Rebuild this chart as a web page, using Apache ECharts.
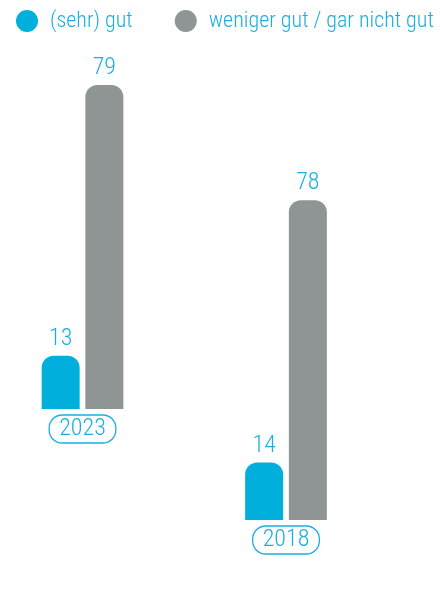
<!DOCTYPE html>
<html>
<head>
<meta charset="utf-8">
<script src="https://cdn.jsdelivr.net/npm/echarts@6/dist/echarts.min.js"></script>
<style>html,body{margin:0;padding:0;background:#fff}#c{width:440px;height:616px}</style>
</head>
<body>
<div id="c"></div>
<script>
const seriesNames = ['(sehr) gut', 'weniger gut / gar nicht gut'];
const years = ['2023', '2018'];
const sehrGut = [13, 14];
const wenigerGut = [79, 78];

const BLUE = '#00afdc';
const GREY = '#8f9495';
const TEXT = '#1aaee0';
const FONT = '"Roboto Condensed", "DejaVu Sans Condensed", "Liberation Sans Narrow", "Roboto", sans-serif';

const chart = echarts.init(document.getElementById('c'), null, {renderer: 'canvas'});

const grids = [
  {left: 32, width: 101, top: 81, height: 328},
  {left: 235, width: 102, top: 192, height: 328}
];

const xAxes = years.map((y, i) => ({
  type: 'category', gridIndex: i, data: [y],
  axisLine: {show: false}, axisTick: {show: false},
  axisLabel: {
    margin: 9,
    formatter: v => '{p|' + v + '}',
    rich: {p: {
      color: TEXT, fontFamily: FONT, fontSize: 24, fontWeight: 300, lineHeight: 22,
      borderColor: TEXT, borderWidth: 1.3, borderRadius: 13,
      padding: [2, 10, 2, 10]
    }}
  }
}));
const yAxes = years.map((y, i) => ({
  type: 'value', gridIndex: i, min: 0, max: 80, show: false
}));

const labelCfg = {show: true, position: 'top', distance: 5, color: TEXT, fontFamily: FONT, fontSize: 24, fontWeight: 300};
const series = [];
years.forEach((y, i) => {
  series.push({
    name: seriesNames[0], type: 'bar', xAxisIndex: i, yAxisIndex: i,
    data: [sehrGut[i]], barWidth: 38, barGap: '15%',
    itemStyle: {color: BLUE, borderRadius: [12, 12, 0, 0]},
    label: labelCfg
  });
  series.push({
    name: seriesNames[1], type: 'bar', xAxisIndex: i, yAxisIndex: i,
    data: [wenigerGut[i]], barWidth: 38, barGap: '15%',
    itemStyle: {color: GREY, borderRadius: [12, 12, 0, 0]},
    label: labelCfg
  });
});

chart.setOption({
  animation: false,
  legend: {
    data: seriesNames, top: 10, left: 16, padding: 0,
    icon: 'circle', itemWidth: 22, itemHeight: 22, itemGap: 42,
    textStyle: {color: TEXT, fontFamily: FONT, fontSize: 22, fontWeight: 300, padding: [0, 0, 0, 7]}
  },
  grid: grids,
  xAxis: xAxes,
  yAxis: yAxes,
  series: series
});
</script>
</body>
</html>
